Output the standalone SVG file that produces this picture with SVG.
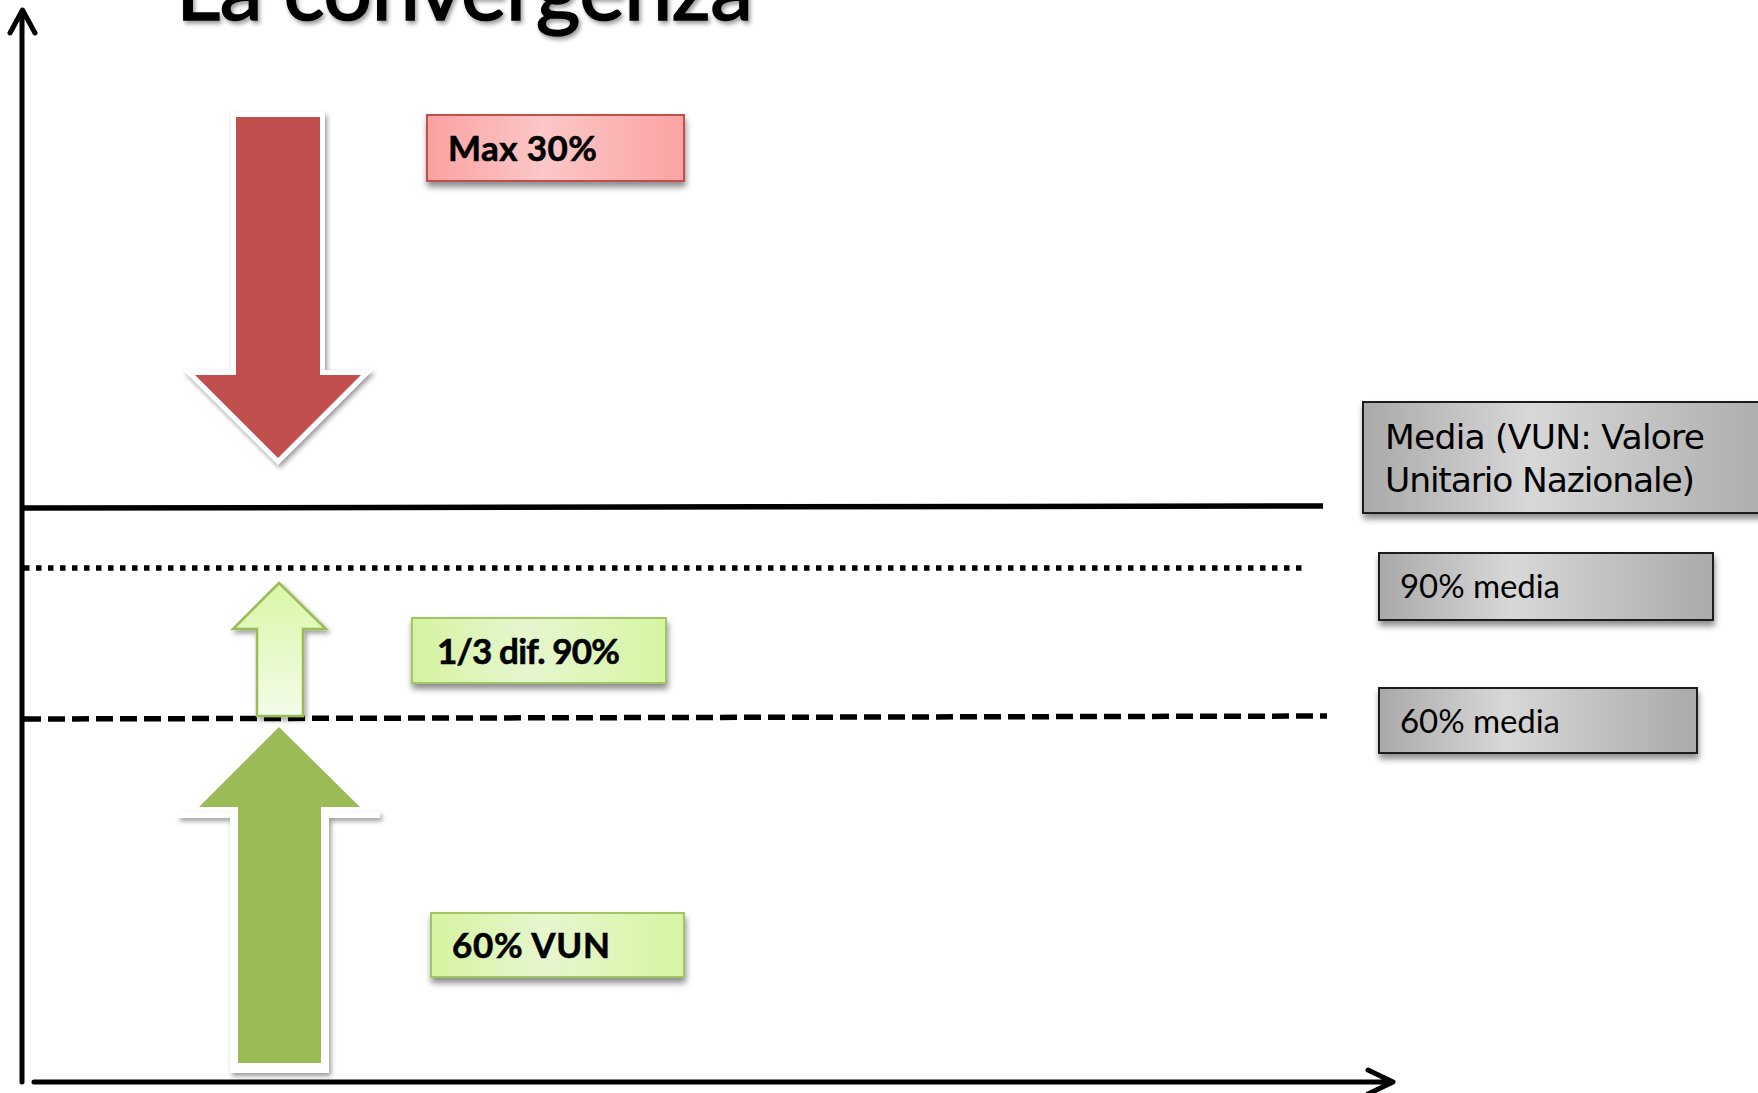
<svg xmlns="http://www.w3.org/2000/svg" width="1758" height="1093" viewBox="0 0 1758 1093">
<style>
.bold{font-family:Lato,"Open Sans","Liberation Sans",sans-serif;font-weight:700;fill:#000;stroke:#000;stroke-width:0.6}
.reg{font-family:Lato,"Open Sans","Liberation Sans",sans-serif;font-weight:400;fill:#000}
.verd{font-family:"DejaVu Sans","Liberation Sans",sans-serif;fill:#000}
.grey{fill:url(#gGrey);stroke:#1a1a1a;stroke-width:2}
.pink{fill:url(#gPink);stroke:#c0504d;stroke-width:2}
.green{fill:url(#gGreen);stroke:#a3c566;stroke-width:2}
.axis{fill:none;stroke:#000;stroke-width:5;stroke-linecap:round;stroke-linejoin:round}
</style>
<defs>
<filter id="sh" x="-20%" y="-30%" width="140%" height="180%">
<feDropShadow dx="1" dy="5" stdDeviation="3" flood-color="#000" flood-opacity="0.45"/>
</filter>
<filter id="shs" x="-20%" y="-20%" width="140%" height="140%">
<feDropShadow dx="2" dy="3" stdDeviation="2.5" flood-color="#000" flood-opacity="0.4"/>
</filter>
<filter id="tsh" x="-5%" y="-50%" width="110%" height="200%">
<feDropShadow dx="2" dy="3" stdDeviation="2" flood-color="#000" flood-opacity="0.4"/>
</filter>
<linearGradient id="gGrey" x1="0" y1="0" x2="1" y2="0">
<stop offset="0" stop-color="#a9a9a9"/><stop offset="0.4" stop-color="#d8d8d8"/><stop offset="1" stop-color="#aaaaaa"/>
</linearGradient>
<linearGradient id="gPink" x1="0" y1="0" x2="1" y2="0">
<stop offset="0" stop-color="#fba1a1"/><stop offset="0.45" stop-color="#fcc7c7"/><stop offset="1" stop-color="#fba3a3"/>
</linearGradient>
<linearGradient id="gGreen" x1="0" y1="0" x2="1" y2="0">
<stop offset="0" stop-color="#d5f3a0"/><stop offset="0.45" stop-color="#e6f6cf"/><stop offset="1" stop-color="#d6f5a2"/>
</linearGradient>
<linearGradient id="gLight" x1="0" y1="0" x2="0" y2="1">
<stop offset="0" stop-color="#d8f7a6"/><stop offset="1" stop-color="#f3fce9"/>
</linearGradient>
</defs>
<rect width="1758" height="1093" fill="#fff"/>

<g id="title">
<text class="reg" x="176" y="20" font-size="86" textLength="577" stroke="#000" stroke-width="1.6" filter="url(#tsh)">La convergenza</text>
</g>

<g id="connectors">
<path class="axis" d="M22 1082 V11 M10 33 L22.5 10 L35 33"/>
<path class="axis" d="M34 1082 H1392 M1368 1070 L1393 1082 L1368 1094"/>
<path d="M22 508 L1323 506" stroke="#000" stroke-width="5.5" fill="none"/>
<path d="M24 568 H1307" stroke="#000" stroke-width="5.5" stroke-dasharray="5.5 6.5" fill="none"/>
<path d="M24 719 L1327 716" stroke="#000" stroke-width="5.5" stroke-dasharray="17 7" fill="none"/>
</g>

<g id="arrow-red">
<polygon points="236,117 320,117 320,375 361,375 278,458 195,375 236,375" fill="#c0504d" stroke="#fff" stroke-width="10" stroke-miterlimit="4" paint-order="stroke" filter="url(#shs)"/>
</g>

<g id="arrow-light">
<polygon points="279,583 326,629 303,629 303,716 257,716 257,629 233,629" fill="url(#gLight)" stroke="#9bbb59" stroke-width="2.5" filter="url(#shs)"/>
</g>

<g id="arrow-green">
<polygon points="178,812 380,812 380,818 329,818 329,1073 230,1073 230,818 178,818" fill="#fff" filter="url(#shs)"/>
<polygon points="279,727 360,807 321,807 321,1063 238,1063 238,807 199,807" fill="#9bbb59"/>
</g>

<g id="box-max">
<rect class="pink" x="427" y="115" width="257" height="66" filter="url(#sh)"/>
<text class="bold" x="448" y="161" font-size="35" textLength="149">Max 30%</text>
</g>

<g id="box-third">
<rect class="green" x="412" y="618" width="254" height="65" filter="url(#sh)"/>
<text class="bold" x="437" y="664" font-size="35" textLength="183">1/3 dif. 90%</text>
</g>

<g id="box-vun">
<rect class="green" x="431" y="913" width="253" height="64" filter="url(#sh)"/>
<text class="bold" x="452" y="958" font-size="35" textLength="158">60% VUN</text>
</g>

<g id="box-media">
<rect class="grey" x="1363" y="402" width="420" height="111" filter="url(#sh)"/>
<text class="verd" x="1385" y="449" font-size="34.5" textLength="320">Media (VUN: Valore</text>
<text class="verd" x="1385" y="492" font-size="34.5" textLength="310">Unitario Nazionale)</text>
</g>

<g id="box-90">
<rect class="grey" x="1379" y="553" width="334" height="67" filter="url(#sh)"/>
<text class="reg" x="1400" y="598" font-size="33" textLength="160">90% media</text>
</g>

<g id="box-60">
<rect class="grey" x="1379" y="688" width="318" height="65" filter="url(#sh)"/>
<text class="reg" x="1400" y="733" font-size="33" textLength="160">60% media</text>
</g>
</svg>
